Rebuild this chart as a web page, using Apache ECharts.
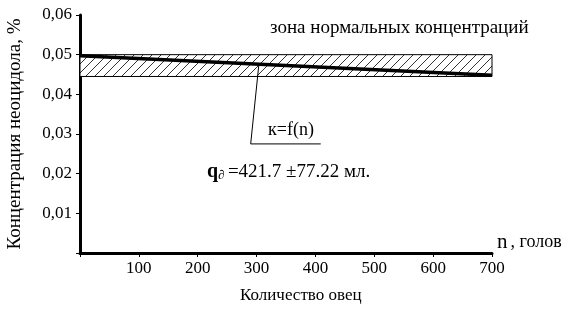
<!DOCTYPE html>
<html><head><meta charset="utf-8">
<script src="https://cdn.jsdelivr.net/npm/echarts@6/dist/echarts.min.js"></script>
<style>html,body{margin:0;padding:0;background:#fff}#c{width:588px;height:311px}</style>
</head><body><div id="c"></div>
<script>
// Data
const xTicks = [0, 100, 200, 300, 400, 500, 600, 700];
const yTicks = [0, 0.01, 0.02, 0.03, 0.04, 0.05, 0.06];
const trendX = [0, 700];
const trendY = [0.0497, 0.0448];
const zoneLow = 0.0445;
const zoneHigh = 0.05;
const zoneX = [0, 700];
const leaderX = [304, 290, 409];
const leaderY = [0.0477, 0.0275, 0.0275];

const FONT = 'Liberation Serif';

function hatch() {
  const s = 9;
  const c = document.createElement('canvas');
  c.width = s; c.height = s;
  const g = c.getContext('2d');
  g.fillStyle = '#fff'; g.fillRect(0, 0, s, s);
  g.strokeStyle = '#000'; g.lineWidth = 0.8;
  g.beginPath();
  g.moveTo(0, s); g.lineTo(s, 0);
  g.moveTo(-1, 1); g.lineTo(1, -1);
  g.moveTo(s - 1, s + 1); g.lineTo(s + 1, s - 1);
  g.stroke();
  return c;
}

const chart = echarts.init(document.getElementById('c'), null, {renderer: 'canvas'});
chart.setOption({
  animation: false,
  backgroundColor: '#fff',
  textStyle: {fontFamily: FONT, color: '#000'},
  grid: {left: 80, top: 15, right: 96, bottom: 58, containLabel: false, outerBoundsMode: 'none'},
  xAxis: {
    type: 'value', min: xTicks[0], max: xTicks[xTicks.length - 1], interval: 100,
    axisLine: {lineStyle: {color: '#000', width: 3}},
    axisTick: {show: true, length: 4, inside: false, lineStyle: {color: '#000', width: 1}},
    splitLine: {show: false},
    axisLabel: {fontFamily: FONT, fontSize: 17, color: '#000', margin: 7,
      formatter: v => v === 0 ? '' : String(v)},
    name: '{n|n} {g|, голов}', nameLocation: 'end', nameGap: 5,
    nameTextStyle: {verticalAlign: 'bottom', padding: [0, 0, 0, 0],
      rich: {n: {fontFamily: FONT, fontSize: 21, color: '#000'}, g: {fontFamily: FONT, fontSize: 18, color: '#000'}}}
  },
  yAxis: {
    type: 'value', min: 0, max: yTicks[yTicks.length - 1], interval: 0.01,
    axisLine: {show: true, lineStyle: {color: '#000', width: 3}},
    axisTick: {show: true, length: 4, lineStyle: {color: '#000', width: 1}},
    splitLine: {show: false},
    axisLabel: {fontFamily: FONT, fontSize: 17, color: '#000', margin: 8,
      formatter: v => v === 0 ? '' : v.toFixed(2).replace('.', ',')},
    name: 'Концентрация неоцидола, %', nameLocation: 'middle', nameGap: 55, nameRotate: 90,
    nameTextStyle: {fontFamily: FONT, fontSize: 19, color: '#000'}
  },
  series: [
    {
      type: 'line', data: [], silent: true,
      markArea: {
        silent: true,
        itemStyle: {color: {image: hatch(), repeat: 'repeat'}, borderColor: '#000', borderWidth: 1, opacity: 1},
        data: [[{xAxis: zoneX[0], yAxis: zoneLow}, {xAxis: zoneX[1], yAxis: zoneHigh}]]
      }
    },
    {
      type: 'line', symbol: 'none', silent: true,
      lineStyle: {color: '#000', width: 3.5},
      data: trendX.map((x, i) => [x, trendY[i]]), z: 5
    },
    {
      type: 'line', symbol: 'none', silent: true,
      lineStyle: {color: '#000', width: 1},
      data: leaderX.map((x, i) => [x, leaderY[i]]), z: 4
    }
  ],
  graphic: [
    {type: 'text', left: 270, top: 19, style: {text: 'зона нормальных концентраций', font: '19px "Liberation Serif"', fill: '#000'}},
    {type: 'text', left: 268, top: 121, style: {text: 'к=f(n)', font: '18px "Liberation Serif"', fill: '#000'}},
    {type: 'text', left: 207, top: 162, style: {
      text: '{q|q}{d|∂} {t|=421.7 ±77.22 мл.}',
      rich: {
        q: {font: 'bold 20px "Liberation Serif"', fill: '#000'},
        d: {font: 'italic 13px "Liberation Serif"', fill: '#000', padding: [8, 0, 0, 0]},
        t: {font: '19px "Liberation Serif"', fill: '#000'}
      }}},
    {type: 'text', left: 240, top: 287, style: {text: 'Количество овец', font: '17px "Liberation Serif"', fill: '#000'}}
  ]
});
</script></body></html>
